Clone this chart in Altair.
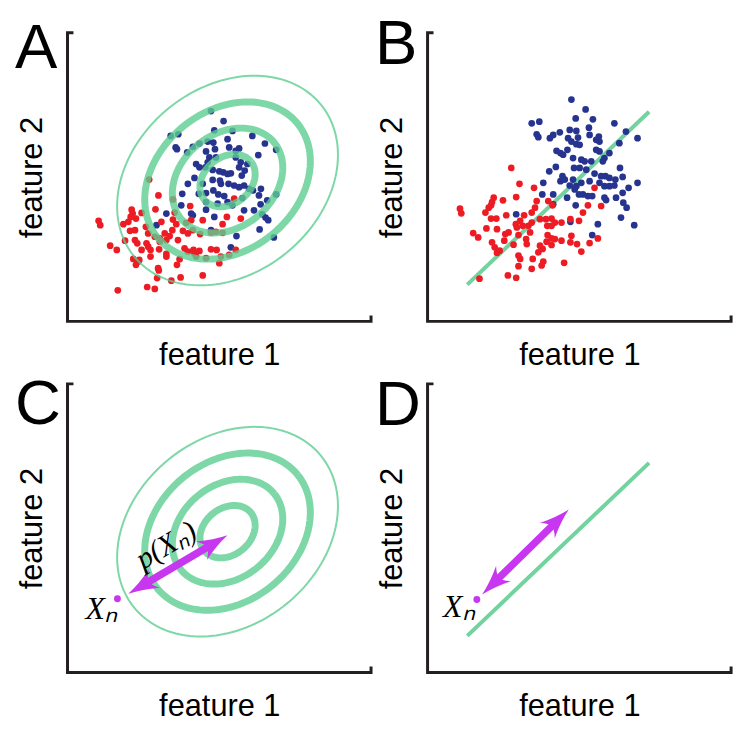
import math
import numpy as np
import pandas as pd
import altair as alt

# ---------------- data (feature units) ----------------
A_blue = [(455,730),(493,700),(465,672),(520,670),(333,655),(356,660),(348,620),(352,615),(400,622),
          (420,632),(445,638),(462,635),(467,615),(505,645),(510,620),(540,617),(530,610),(580,655),
          (618,632),(652,613),(598,597),(383,605),(440,608),(450,590),(470,590),(410,570),(420,560),
          (438,560),(445,575),(530,590),(545,575),(540,560),(565,570),(557,550),(548,535),(460,552),
          (480,548),(492,545),(505,540),(515,542),(405,528),(385,510),(430,510),(460,522),(482,520),
          (485,510),(462,490),(508,510),(525,505),(540,500),(555,505),(570,495),(582,490),(606,495),
          (368,480),(418,480),(440,482),(477,478),(495,473),(600,475),(550,467),(625,460),(652,478),
          (440,455),(475,450),(505,455),(520,445),(605,448),(365,445),(395,420),(440,432),(465,410),
          (555,430),(585,430),(610,418),(620,408),(628,400),(532,352),(602,372),(645,348),(515,318),
          (455,370),(290,385),(400,415),(320,420)]
A_red = [(268,523),(296,475),(340,463),(345,423),(215,432),(218,420),(245,422),(287,433),(392,443),
         (115,398),(120,385),(190,388),(205,395),(212,410),(228,405),(258,380),(305,395),(340,402),
         (350,388),(380,392),(395,400),(430,400),(490,388),(503,410),(545,405),(525,465),(210,368),
         (225,370),(265,360),(285,350),(300,345),(315,360),(330,352),(338,370),(370,368),(385,360),
         (400,370),(422,358),(455,362),(470,365),(490,362),(195,338),(225,340),(232,330),(260,330),
         (265,320),(300,335),(320,340),(355,340),(150,323),(170,310),(245,310),(272,310),(298,312),
         (375,315),(385,305),(402,310),(420,307),(455,312),(472,310),(440,285),(485,290),(510,295),
         (530,310),(220,283),(235,275),(228,265),(272,290),(320,298),(320,290),(360,282),(352,265),
         (410,290),(480,270),(295,255),(297,248),(292,225),(335,217),(363,227),(430,233),(262,198),
         (285,192),(173,188),(238,280),(405,300)]
B_blue = [(465,942),(508,912),(345,870),(368,875),(478,885),(530,882),(595,870),(518,857),(460,850),
          (480,847),(360,837),(365,828),(400,825),(410,835),(430,843),(455,825),(465,815),(485,827),
          (480,807),(520,835),(548,830),(540,820),(550,815),(630,845),(610,810),(665,825),(420,787),
          (432,780),(440,775),(453,790),(470,765),(490,805),(540,790),(550,785),(580,780),(565,765),
          (560,755),(495,760),(505,755),(525,755),(398,725),(418,738),(473,735),(490,735),(510,730),
          (535,718),(555,710),(568,710),(580,705),(598,700),(612,735),(620,708),(665,690),(438,710),
          (432,695),(445,700),(470,700),(460,682),(480,680),(475,670),(495,690),(520,695),(550,690),
          (565,680),(580,680),(595,682),(638,675),(380,690),(377,655),(410,655),(452,645),(488,655),
          (500,655),(515,650),(528,650),(565,645),(570,638),(600,645),(620,660),(622,630),(632,615),
          (478,622),(410,625),(615,585),(655,562),(545,565),(528,532),(462,572),(298,595)]
B_red = [(283,735),(308,687),(352,675),(230,645),(225,632),(258,637),(298,647),(128,612),(132,598),
         (205,600),(215,615),(222,622),(360,635),(395,635),(408,622),(535,675),(555,620),(515,622),
         (268,592),(238,582),(222,582),(297,565),(310,575),(322,592),(345,600),(355,615),(370,580),
         (388,580),(405,582),(415,570),(435,570),(462,580),(488,575),(500,600),(208,552),(240,550),
         (300,555),(318,560),(335,560),(345,570),(392,560),(405,560),(168,538),(183,525),(265,535),
         (275,540),(305,532),(340,540),(328,520),(393,532),(405,522),(390,512),(415,520),(435,515),
         (465,530),(520,508),(545,522),(482,505),(262,515),(233,495),(248,485),(240,478),(290,503),
         (330,505),(370,500),(378,490),(365,480),(495,482),(305,470),(310,460),(348,460),(380,452),
         (443,448),(305,438),(345,430),(375,440),(187,400),(273,410),(298,403),(225,510),(405,502),
         (462,510)]

# Gaussian contour ellipses shared by panels A and C
ELL_CENTER = (505, 520)
ELL_SEMI_MAJOR = [91, 182, 273, 364]
ELL_SEMI_MINOR = [70.5, 141, 211.5, 282]
ELL_TILT_DEG = 39
ELL_STROKE = [7, 7, 7, 2]

# linear boundary shared by panels B and D
LINE_X = [150, 700]
LINE_Y = [382, 905]

# annotations
C_POINT = (172, 317)
C_ARROW = [(205, 332), (505, 509)]
C_LABEL_XN = (124, 285)
C_LABEL_P = (320, 478)
D_POINT = (179, 492)
D_ARROW = [(195, 507), (457, 764)]
D_LABEL_XN = (126, 469)

DOM_AC_X = [21, 939]
DOM_AC_Y = [94, 967]
DOM_BD_X = [30, 948]
DOM_BD_Y = [271, 1144]

# ---------------- styles ----------------
RED = "#ed1c24"
BLUE = "#27348f"
GREEN = "#5ccd91"
LINEGREEN = "#72d39f"
MAGENTA = "#c837f0"
AXC = "#231f20"
W, H = 306, 291
HEAD = "M0,0 Q0.18,0.85 0.62,1.75 Q0.22,1.38 0,1.38 Q-0.22,1.38 -0.62,1.75 Q-0.18,0.85 0,0 Z"

AX = dict(domain=False, ticks=False, labels=False, grid=False, titleFont="Liberation Sans",
          titleFontSize=31, titleFontWeight="normal", titleColor="black", titlePadding=19)


def enc(xd, yd):
    x = alt.X("x:Q", scale=alt.Scale(domain=xd, nice=False, zero=False),
              axis=alt.Axis(title="feature 1", **AX))
    y = alt.Y("y:Q", scale=alt.Scale(domain=yd, nice=False, zero=False),
              axis=alt.Axis(title="feature 2", **AX))
    return x, y


def frame_layer(xd, yd, X, Y):
    h = 18
    df = pd.DataFrame({"x": [xd[0] + h, xd[0], xd[0], xd[1], xd[1]],
                       "y": [yd[1], yd[1], yd[0], yd[0], yd[0] + h],
                       "o": list(range(5))})
    return alt.Chart(df).mark_line(color=AXC, strokeWidth=3, strokeJoin="miter",
                                   strokeCap="butt").encode(x=X, y=Y, order="o:Q")


def letter_layer(letter, dx, dy):
    return alt.Chart(pd.DataFrame({"t": [letter]})).mark_text(
        font="Liberation Sans", fontSize=64, align="left", baseline="alphabetic", color="black"
    ).encode(text="t:N", x=alt.value(dx), y=alt.value(dy))


def dots_layer(blue, red, X, Y):
    df = pd.DataFrame([(x, y, "b") for x, y in blue] + [(x, y, "r") for x, y in red],
                      columns=["x", "y", "c"])
    return alt.Chart(df).mark_circle(size=46, opacity=1).encode(
        x=X, y=Y, color=alt.Color("c:N", scale=alt.Scale(domain=["b", "r"], range=[BLUE, RED]), legend=None))


def ellipse_layer(X, Y):
    rows = []
    th = math.radians(ELL_TILT_DEG)
    t = np.linspace(0, 2 * np.pi, 181)
    for k, (a, b, w) in enumerate(zip(ELL_SEMI_MAJOR, ELL_SEMI_MINOR, ELL_STROKE)):
        xs = ELL_CENTER[0] + a * np.cos(t) * math.cos(th) - b * np.sin(t) * math.sin(th)
        ys = ELL_CENTER[1] + a * np.cos(t) * math.sin(th) + b * np.sin(t) * math.cos(th)
        for i, (xx, yy) in enumerate(zip(xs, ys)):
            rows.append((xx, yy, k, i, w))
    df = pd.DataFrame(rows, columns=["x", "y", "ring", "i", "w"])
    return alt.Chart(df).mark_line(color=GREEN, opacity=0.8).encode(
        x=X, y=Y, detail="ring:N", order="i:Q", strokeWidth=alt.StrokeWidth("w:Q", scale=None))


def line_layer(X, Y):
    df = pd.DataFrame({"x": LINE_X, "y": LINE_Y, "o": [0, 1]})
    return alt.Chart(df).mark_line(color=LINEGREEN, strokeWidth=4).encode(x=X, y=Y, order="o:Q")


def arrow_layers(tips, X, Y):
    (x0, y0), (x1, y1) = tips
    dx, dy = x1 - x0, y1 - y0
    L = math.hypot(dx, dy)
    ux, uy = dx / L, dy / L
    phi = math.degrees(math.atan2(-dy, dx))
    heads = pd.DataFrame({"x": [x1, x0], "y": [y1, y0],
                          "rot": [(phi + 90) % 360, (phi + 270) % 360]})
    back = 64
    shaft = pd.DataFrame({"x": [x0 + ux * back], "y": [y0 + uy * back],
                          "x2": [x1 - ux * back], "y2": [y1 - uy * back]})
    s = alt.Chart(shaft).mark_rule(color=MAGENTA, strokeWidth=7.5, strokeCap="butt").encode(
        x=X, y=Y, x2="x2:Q", y2="y2:Q")
    hd = alt.Chart(heads).mark_point(shape=HEAD, filled=True, size=1200, color=MAGENTA,
                                     opacity=1, strokeWidth=0).encode(
        x=X, y=Y, angle=alt.Angle("rot:Q", scale=None))
    return [s, hd], phi


def point_layer(p, X, Y):
    return alt.Chart(pd.DataFrame({"x": [p[0]], "y": [p[1]]})).mark_circle(
        size=48, color=MAGENTA, opacity=1).encode(x=X, y=Y)


def label_layer(p, text, X, Y, angle=0, size=32):
    return alt.Chart(pd.DataFrame({"x": [p[0]], "y": [p[1]], "t": [text]})).mark_text(
        font="Liberation Serif", fontStyle="italic", fontSize=size, angle=angle,
        align="center", baseline="middle", color="black").encode(x=X, y=Y, text="t:N")


# ---------------- panels ----------------
X, Y = enc(DOM_AC_X, DOM_AC_Y)
pA = alt.layer(frame_layer(DOM_AC_X, DOM_AC_Y, X, Y), dots_layer(A_blue, A_red, X, Y),
               ellipse_layer(X, Y), letter_layer("A", -53, 36)).properties(width=W, height=H)

X, Y = enc(DOM_BD_X, DOM_BD_Y)
pB = alt.layer(frame_layer(DOM_BD_X, DOM_BD_Y, X, Y), line_layer(X, Y),
               dots_layer(B_blue, B_red, X, Y), letter_layer("B", -53, 32)).properties(width=W, height=H)

X, Y = enc(DOM_AC_X, DOM_AC_Y)
arrC, phiC = arrow_layers(C_ARROW, X, Y)
pC = alt.layer(frame_layer(DOM_AC_X, DOM_AC_Y, X, Y), ellipse_layer(X, Y), *arrC,
               point_layer(C_POINT, X, Y), label_layer(C_LABEL_XN, "Xₙ", X, Y),
               label_layer(C_LABEL_P, "p(Xₙ)", X, Y, angle=phiC % 360, size=30),
               letter_layer("C", -53, 40)).properties(width=W, height=H)

X, Y = enc(DOM_BD_X, DOM_BD_Y)
arrD, phiD = arrow_layers(D_ARROW, X, Y)
pD = alt.layer(frame_layer(DOM_BD_X, DOM_BD_Y, X, Y), line_layer(X, Y), *arrD,
               point_layer(D_POINT, X, Y), label_layer(D_LABEL_XN, "Xₙ", X, Y),
               letter_layer("D", -53, 41)).properties(width=W, height=H)

chart = alt.concat(pA, pB, pC, pD, columns=2, spacing={"row": 63, "column": 57},
                   bounds="flush").properties(
    padding={"left": 7, "top": 3, "right": 5, "bottom": 5}, background="white"
).configure_view(stroke=None)

chart.save("out.html", embed_options={"renderer": "svg", "actions": False})
